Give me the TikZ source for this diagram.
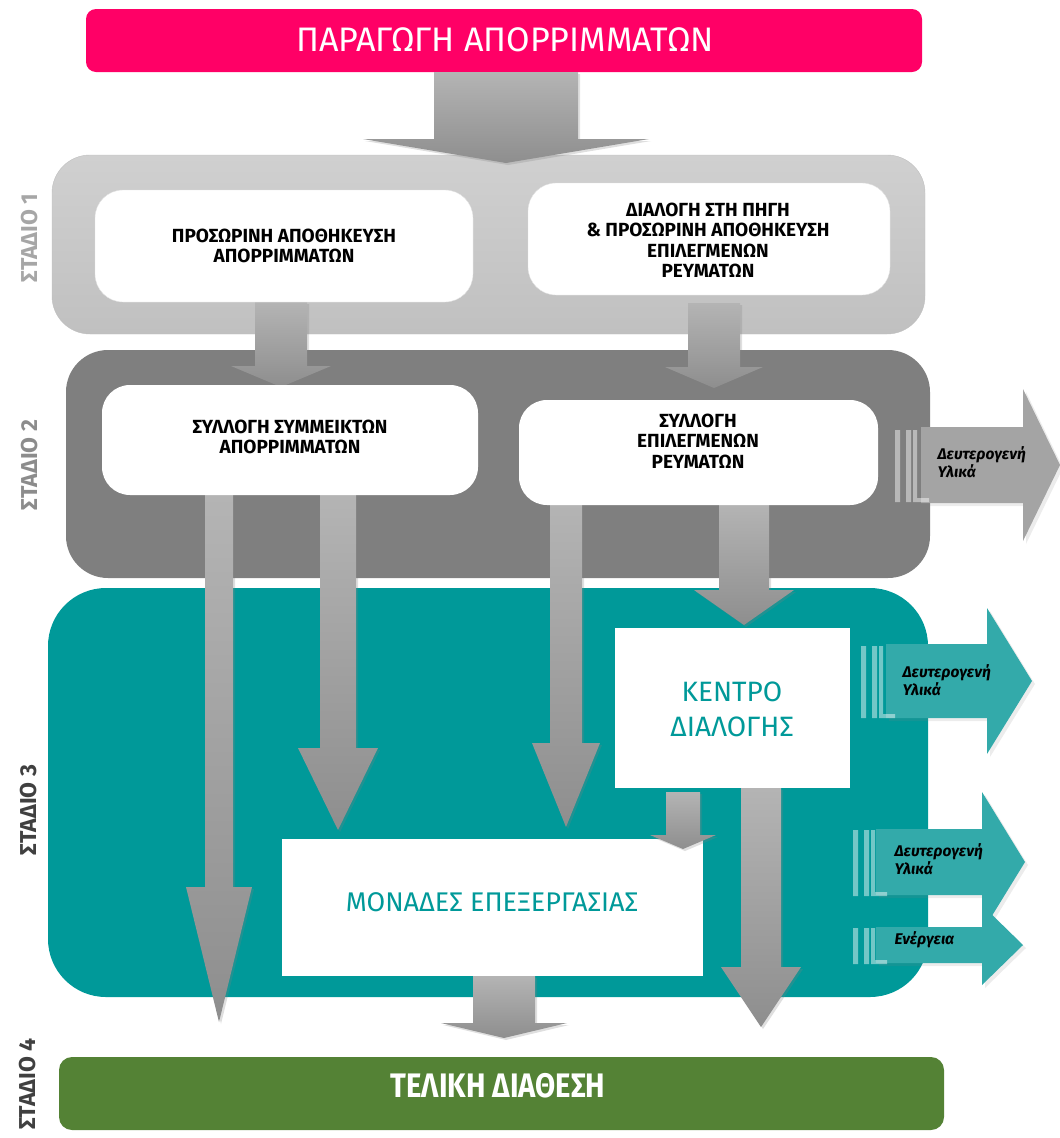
\documentclass[tikz,border=0pt]{standalone}
\usepackage{fontspec}
\setmainfont{Fira Sans}
\newfontfamily\condfont{Fira Sans}[FakeStretch=0.86]
\usetikzlibrary{shadows}
\definecolor{cPink}{HTML}{FF0066}
\definecolor{cStOneT}{HTML}{D0D0D0}
\definecolor{cStOneB}{HTML}{C0C0C0}
\definecolor{cStTwo}{HTML}{7F7F7F}
\definecolor{cTeal}{HTML}{009999}
\definecolor{cGreen}{HTML}{548235}
\definecolor{cArrTop}{HTML}{B4B4B4}
\definecolor{cArrBot}{HTML}{8E8E8E}
\definecolor{cTealArr}{HTML}{33AAAA}
\definecolor{cGrayArr}{HTML}{A4A4A4}
\definecolor{cLblOne}{HTML}{A6A6A6}
\definecolor{cLblTwo}{HTML}{8C8C8C}
\definecolor{cLblDark}{HTML}{404040}

\newcommand{\dnarrow}[6]{\path[dnfill] ({#1-#5},#2) -- ({#1+#5},#2) -- ({#1+#5},#3) -- ({#1+#6},#3) -- (#1,#4) -- ({#1-#6},#3) -- ({#1-#5},#3) -- cycle;}
\newcommand{\rtarrow}[7]{\path[#7] (#1,{#2-#5}) -- (#3,{#2-#5}) -- (#3,{#2-#6}) -- (#4,#2) -- (#3,{#2+#6}) -- (#3,{#2+#5}) -- (#1,{#2+#5}) -- cycle;}
\newcommand{\stripes}[3]{%
  \fill[white,opacity=.45] (#1,#2) rectangle ({#1+5},#3)
    ({#1+11},#2) rectangle ({#1+16},#3)
    ({#1+18},#2) rectangle ({#1+22},#3)
    ({#1+18},{#3-4}) rectangle ({#1+34},#3);}

\tikzset{
  dnfill/.style={top color=cArrTop,bottom color=cArrBot,
    drop shadow={opacity=.25,shadow xshift=2pt,shadow yshift=-2pt}},
  tealarr/.style={fill=cTealArr,drop shadow={opacity=.15,shadow xshift=3pt,shadow yshift=-3pt}},
  grayarr/.style={fill=cGrayArr,drop shadow={opacity=.15,shadow xshift=3pt,shadow yshift=-3pt}},
  wbox/.style={fill=white,draw=black!12,rounded corners=28pt,inner sep=0pt},
  sqbox/.style={fill=white,inner sep=0pt},
  boxtxt/.style={align=center,font=\fontsize{19}{20.5}\selectfont\bfseries},
  sidetxt/.style={align=left,anchor=west,font=\fontsize{15.5}{18.5}\selectfont\bfseries\itshape},
  stlbl/.style={rotate=90,font=\fontsize{23}{26}\selectfont\bfseries},
}

\begin{document}
\begin{tikzpicture}[x=1pt,y=-1pt]
\useasboundingbox (0,0) rectangle (1060,1138);

% stage backgrounds
\path[top color=cStOneT,bottom color=cStOneB,draw=black!25,rounded corners=38pt] (52,155) rectangle (925,334);
\fill[cStTwo,rounded corners=42pt] (66,350) rectangle (930,578);
\fill[cTeal,rounded corners=58pt] (48,588) rectangle (928,997);

% title and final box
\node[fill=cPink,rounded corners=10pt,minimum width=836pt,minimum height=63pt,inner sep=0pt] (prod) at (504,40.5) {};
\node[text=white,font=\fontsize{34}{36}\selectfont] (prodt) at (505,40) {ΠΑΡΑΓΩΓΗ ΑΠΟΡΡΙΜΜΑΤΩΝ};
\node[fill=cGreen,rounded corners=13pt,minimum width=885pt,minimum height=73pt,inner sep=0pt] (final) at (501.5,1093.5) {};
\node[text=white,font=\condfont\fontsize{34}{36}\selectfont\bfseries] (finalt) at (498,1086) {ΤΕΛΙΚΗ ΔΙΑΘΕΣΗ};

% stage labels
\node[stlbl,text=cLblOne] (l1) at (30,238) {ΣΤΑΔΙΟ 1};
\node[stlbl,text=cLblTwo] (l2) at (30,465) {ΣΤΑΔΙΟ 2};
\node[stlbl,text=cLblDark] (l3) at (29,810) {ΣΤΑΔΙΟ 3};
\node[stlbl,text=cLblDark] (l4) at (28,1084) {ΣΤΑΔΙΟ 4};

% right side arrows
\rtarrow{921}{465}{1023}{1060}{38}{76}{grayarr}
\stripes{895}{430}{502}
\node[sidetxt] (s2t) at (934,462) {Δευτερογενή\\Υλικά};

\rtarrow{886}{681}{987}{1032}{37}{73}{tealarr}
\stripes{861}{646}{718}
\node[sidetxt] (r1t) at (899,680) {Δευτερογενή\\Υλικά};

\rtarrow{876}{862}{982}{1025}{33}{70}{tealarr}
\stripes{853}{830}{896}
\node[sidetxt] (r2t) at (891,859) {Δευτερογενή\\Υλικά};

\rtarrow{876}{945}{982}{1023}{18}{40}{tealarr}
\stripes{853}{928}{964}
\node[sidetxt] (r3t) at (891,940) {Ενέργεια};

% down arrows
\dnarrow{506}{72}{139}{163}{72}{143}
\dnarrow{281}{302}{366}{387}{26}{50}
\dnarrow{714}{303}{367}{388}{26}{49}
\dnarrow{219}{495}{887}{1022}{14}{33}
\dnarrow{338}{495}{748}{830}{18}{40}
\dnarrow{566}{503}{743}{827}{16}{34}
\dnarrow{744}{503}{590}{625}{25}{50}
\dnarrow{761}{788}{967}{1027}{20}{40}
\dnarrow{504}{976}{1023}{1038}{31}{63}

% stage 1 boxes
\node[wbox,minimum width=378pt,minimum height=112pt] (b1a) at (284,246) {};
\node[boxtxt] (t1a) at (284,246) {ΠΡΟΣΩΡΙΝΗ ΑΠΟΘΗΚΕΥΣΗ\\ΑΠΟΡΡΙΜΜΑΤΩΝ};
\node[wbox,minimum width=362pt,minimum height=112pt] (b1b) at (709,239) {};
\node[boxtxt] (t1b) at (708,240) {ΔΙΑΛΟΓΗ ΣΤΗ ΠΗΓΗ\\\& ΠΡΟΣΩΡΙΝΗ ΑΠΟΘΗΚΕΥΣΗ\\ΕΠΙΛΕΓΜΕΝΩΝ\\ΡΕΥΜΑΤΩΝ};

% stage 2 boxes
\node[wbox,draw=none,minimum width=376pt,minimum height=110pt] (b2a) at (290,440) {};
\node[boxtxt] (t2a) at (290,437) {ΣΥΛΛΟΓΗ ΣΥΜΜΕΙΚΤΩΝ\\ΑΠΟΡΡΙΜΜΑΤΩΝ};
\node[wbox,draw=none,minimum width=359pt,minimum height=105pt] (b2b) at (698.5,452.5) {};
\node[boxtxt] (t2b) at (698,441) {ΣΥΛΛΟΓΗ\\ΕΠΙΛΕΓΜΕΝΩΝ\\ΡΕΥΜΑΤΩΝ};

% stage 3 boxes
\node[sqbox,minimum width=235pt,minimum height=160pt] (kentro) at (732.5,708) {};
\node[text=cTeal,align=center,font=\fontsize{28}{35}\selectfont] (kentrot) at (732,709) {ΚΕΝΤΡΟ\\ΔΙΑΛΟΓΗΣ};
\node[sqbox,minimum width=421pt,minimum height=137pt] (monades) at (492.5,907.5) {};
\node[text=cTeal,font=\fontsize{27}{30}\selectfont] (monadest) at (492,902) {ΜΟΝΑΔΕΣ ΕΠΕΞΕΡΓΑΣΙΑΣ};

% small arrow from kentro overlapping monades edge
\dnarrow{683}{792}{835}{849}{17}{33}
\end{tikzpicture}
\end{document}
